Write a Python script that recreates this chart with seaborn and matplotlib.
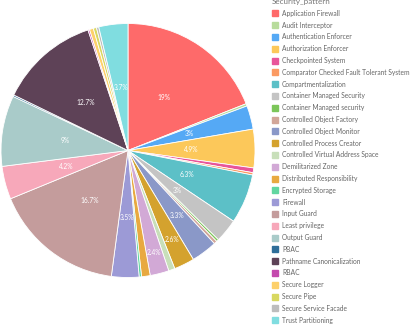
import matplotlib
matplotlib.use("Agg")
import numpy as np
import matplotlib.pyplot as plt
from matplotlib.lines import Line2D
import seaborn as sns

categories = [
    "Application Firewall", "Audit Interceptor", "Authentication Enforcer",
    "Authorization Enforcer", "Checkpointed System",
    "Comparator Checked Fault Tolerant System", "Compartmentalization",
    "Container Managed Security", "Container Managed security",
    "Controlled Object Factory", "Controlled Object Monitor",
    "Controlled Process Creator", "Controlled Virtual Address Space",
    "Demilitarized Zone", "Distributed Responsibility", "Encrypted Storage",
    "Firewall", "Input Guard", "Least privilege", "Output Guard", "PBAC",
    "Pathname Canonicalization", "RBAC", "Secure Logger", "Secure Pipe",
    "Secure Service Facade", "Trust Partitioning",
]
values = [19, 0.3, 3, 4.9, 0.6, 0.3, 6.3, 3, 0.3, 0.4, 3.3, 2.6, 0.8, 2.4,
          1.1, 0.3, 3.5, 16.7, 4.2, 9, 0.2, 12.7, 0.2, 0.5, 0.4, 0.3, 3.7]
colors = [
    "#fe6a6a", "#b8dc9c", "#55a9f5", "#fcc85a", "#e8559a", "#fb9a62",
    "#5cc0c7", "#c4c4c4", "#7cc65a", "#d2a699", "#8a98c8", "#d4a22e",
    "#c8dfba", "#d2a9d6", "#e8a940", "#62d6a0", "#9c9ad6", "#c49c9c",
    "#f7a8ba", "#a9cbc9", "#2e6e99", "#5e4257", "#c44aad", "#fdd06a",
    "#d8d860", "#bdbdbd", "#80dde0",
]
# radial position (fraction of radius) of inside labels, by slice name
label_radius = {
    "Controlled Object Monitor": 0.64,
    "Controlled Process Creator": 0.78,
    "Demilitarized Zone": 0.83,
    "Firewall": 0.53,
}

sns.set_theme(style="white")
plt.rcParams["font.family"] = ["Lato", "DejaVu Sans"]

W, H = 413, 331
fig = plt.figure(figsize=(W / 100, H / 100), dpi=100)
cx, cy, r = 128, 150.5, 127
ax = fig.add_axes([(cx - r) / W, (H - cy - r) / H, 2 * r / W, 2 * r / H])


def fmt(p):
    if p < 2:
        return ""
    s = f"{p:.1f}"
    if s.endswith(".0"):
        s = s[:-2]
    return s + "%"


wedges, texts, autotexts = ax.pie(
    values, colors=colors, startangle=90, counterclock=False,
    autopct=fmt, pctdistance=0.5, radius=1,
    wedgeprops=dict(edgecolor="white", linewidth=0.6),
    textprops=dict(color="white", fontsize=4.8),
)
for name, w, t in zip(categories, wedges, autotexts):
    if name in label_radius:
        th = np.deg2rad((w.theta1 + w.theta2) / 2)
        rr = label_radius[name]
        t.set_position((rr * np.cos(th), rr * np.sin(th)))

ax.set_xlim(-1, 1)
ax.set_ylim(-1, 1)
ax.set_aspect("equal")
ax.axis("off")

handles = [Line2D([], [], marker="s", linestyle="", markersize=5,
                  markerfacecolor=c, markeredgecolor=c) for c in colors]
leg = fig.legend(handles, categories, loc="upper left",
                 bbox_to_anchor=(272 / W, 1 + 2 / H), frameon=False,
                 fontsize=4.8, labelspacing=0.72, handletextpad=0.5,
                 handlelength=1.0, borderaxespad=0, borderpad=0,
                 title="Security_pattern", title_fontsize=5.8,
                 alignment="left")
for t in leg.get_texts():
    t.set_color("#666666")
leg.get_title().set_color("#777777")

fig.savefig("out.png", dpi=100)
